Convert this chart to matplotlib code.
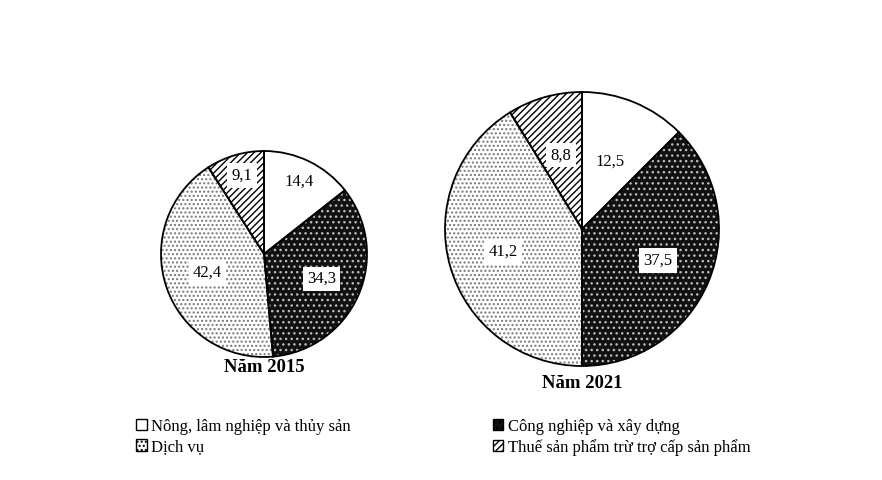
import numpy as np
import matplotlib.pyplot as plt
from matplotlib.patches import Patch

plt.rcParams['font.family'] = ['Liberation Serif', 'DejaVu Serif']

# Data
sectors = ["Nông, lâm nghiệp và thủy sản", "Công nghiệp và xây dựng",
           "Dịch vụ", "Thuế sản phẩm trừ trợ cấp sản phẩm"]
# pie order (clockwise from top): agri, industry, services, tax
v2015 = [14.4, 34.3, 42.4, 9.1]
v2021 = [12.5, 37.5, 41.2, 8.8]
years = ["Năm 2015", "Năm 2021"]

faces = ['white', '#111111', 'white', 'white']
hatch_cols = ['black', '#bbbbbb', '#777777', 'black']
hatches = [None, '...', '....', '/////']

fig = plt.figure(figsize=(8.82, 4.8), dpi=100)
ax = fig.add_axes([0, 0, 1, 1])
ax.axis('off')

def draw(vals, cx, cy, r, dists, title, ty):
    c = (cx, 480 - cy)
    wedges, _ = ax.pie(vals, startangle=90, counterclock=False, center=c, radius=r,
                       colors=faces, frame=True)
    for w, h, hc in zip(wedges, hatches, hatch_cols):
        w.set_edgecolor(hc)
        w.set_linewidth(0)
        if h:
            w.set_hatch(h)
    ax.pie(vals, startangle=90, counterclock=False, center=c, radius=r, frame=True,
           wedgeprops=dict(fill=False, edgecolor='black', linewidth=1.3))
    start = 90.0
    for v, d in zip(vals, dists):
        mid = np.deg2rad(start - v * 3.6 / 2)
        start -= v * 3.6
        ax.text(c[0] + d * r * np.cos(mid), c[1] + d * r * np.sin(mid),
                f"{v:.1f}".replace('.', ','), ha='center', va='center', fontsize=12,
                bbox=dict(facecolor='white', edgecolor='none', pad=3))
    ax.text(cx, 480 - ty, title, ha='center', va='center', fontsize=13.5, fontweight='bold')

draw(v2015, 264, 254, 103, [0.78, 0.61, 0.58, 0.79], years[0], 367)
draw(v2021, 582, 229, 137, [0.53, 0.6, 0.6, 0.56], years[1], 383)
ax.set_xlim(0, 882)
ax.set_ylim(0, 480)
ax.set_aspect('equal')
ax.axis('off')

handles = [Patch(facecolor=f, edgecolor='black', hatch=h) for f, h in zip(faces, hatches)]
order = [0, 2, 1, 3]
fig.legend([handles[i] for i in order], [sectors[i] for i in order], ncol=2,
           loc='upper left', bbox_to_anchor=(0.145, 0.145), frameon=False, fontsize=12,
           handlelength=0.65, handleheight=0.65, handletextpad=0.25,
           columnspacing=8.5, labelspacing=0.25, borderpad=0)

fig.savefig('out.png', dpi=100)
